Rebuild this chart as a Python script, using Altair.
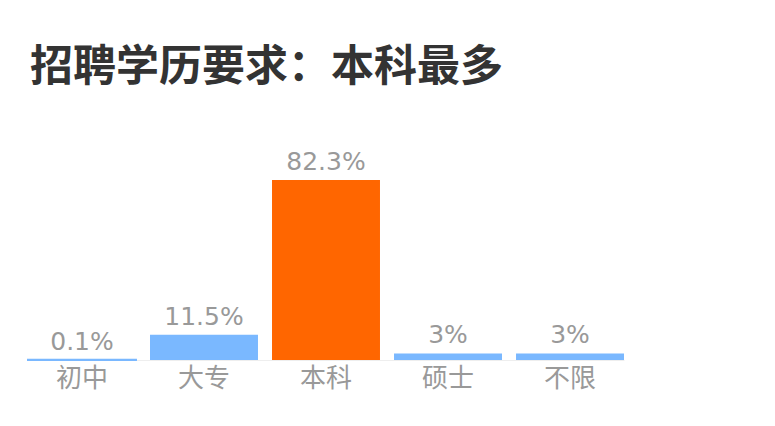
import altair as alt
import pandas as pd

categories = ["初中", "大专", "本科", "硕士", "不限"]
values = [0.1, 11.5, 82.3, 3, 3]
labels = ["0.1%", "11.5%", "82.3%", "3%", "3%"]
highlight = "本科"
title_text = "招聘学历要求：本科最多"

df = pd.DataFrame({"cat": categories, "value": values, "label": labels})

base = alt.Chart(df).encode(
    x=alt.X(
        "cat:N",
        sort=categories,
        scale=alt.Scale(paddingInner=0.115, paddingOuter=0),
        axis=alt.Axis(
            title=None, labelAngle=0, ticks=False, grid=False,
            domainColor="#eeeeee", domainWidth=1,
            labelFontSize=26, labelColor="#999999",
            labelFont="Noto Sans CJK SC", labelPadding=5,
        ),
    ),
    y=alt.Y("value:Q", scale=alt.Scale(domain=[0, 82.3], nice=False), axis=None),
)

bars = base.mark_bar().encode(
    color=alt.condition(alt.datum.cat == highlight, alt.value("#ff6600"), alt.value("#7ab8ff")),
    stroke=alt.condition(alt.datum.cat == highlight, alt.value("#ff6600"), alt.value("#7ab8ff")),
    strokeWidth=alt.condition(alt.datum.value < 1, alt.value(2), alt.value(0)),
)

text = base.mark_text(
    dy=-10, baseline="alphabetic", fontSize=25, color="#999999", font="DejaVu Sans"
).encode(text="label:N")

chart = (
    (bars + text)
    .properties(
        width=596,
        height=180,
        background="white",
        autosize=alt.AutoSizeParams(type="none"),
        padding={"left": 20, "top": 172, "right": 20, "bottom": 40},
        title=alt.TitleParams(
            title_text, anchor="start", fontSize=43, fontWeight="bold",
            color="#333333", font="Noto Sans CJK SC", baseline="alphabetic",
            offset=26, dx=3,
        ),
    )
    .configure_view(stroke="transparent", strokeWidth=0)
)

chart.save("out.html", embed_options={"renderer": "svg", "actions": False})
